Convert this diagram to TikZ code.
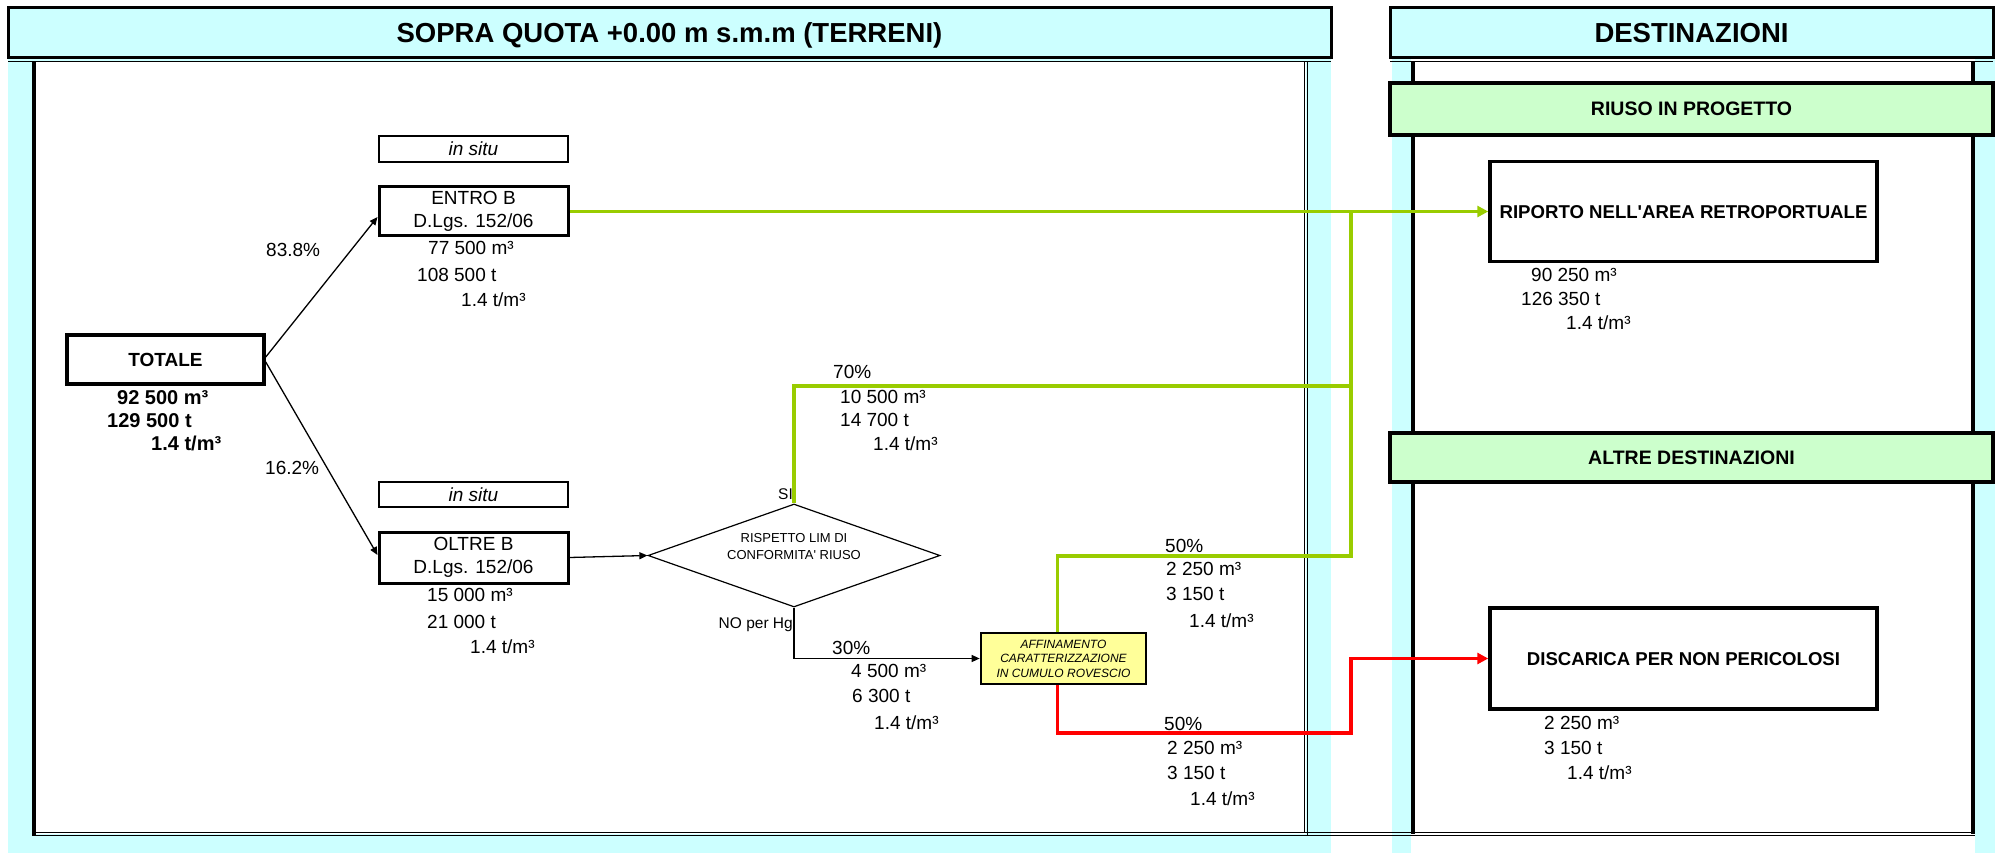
\documentclass[tikz,border=0pt]{standalone}
\usepackage{fontspec}
\setmainfont{Liberation Sans}[Ligatures=TeXOff]
\usetikzlibrary{arrows.meta,shapes.geometric,calc}
\definecolor{cyanbg}{HTML}{CCFFFF}
\definecolor{greenbox}{HTML}{CCFFCC}
\definecolor{yellowbox}{HTML}{FFFF99}
\definecolor{limeline}{HTML}{99CC00}
\definecolor{redline}{HTML}{FF0000}
\begin{document}
\begin{tikzpicture}[x=1pt,y=-1pt,
  box/.style={draw, line width=3pt, fill=white, inner sep=0pt, align=center},
  hdr/.style={draw, line width=3pt, fill=cyanbg, inner sep=0pt, text height=19.7pt, text depth=0pt,
    font=\fontsize{27.5}{32}\selectfont\bfseries},
  subhdr/.style={draw, line width=4pt, fill=greenbox, inner sep=0pt, text height=14pt, text depth=0pt,
    font=\fontsize{19.5}{23}\selectfont\bfseries},
  destbox/.style={box, line width=3.5pt, minimum width=387pt, text height=13.3pt, text depth=0pt,
    font=\fontsize{18.6}{22}\selectfont\bfseries},
  lbl/.style={inner sep=0pt, anchor=west, text height=13.6pt, text depth=0pt, font=\fontsize{19}{22}\selectfont},
  blbl/.style={inner sep=0pt, anchor=west, text height=14.3pt, text depth=0pt, font=\fontsize{20}{23}\selectfont\bfseries},
  smalllbl/.style={inner sep=0pt, text height=11pt, text depth=0pt, font=\fontsize{15.5}{18}\selectfont},
  arr/.style={line width=1.3pt, -{Triangle[length=8pt,width=7pt]}},
  gline/.style={draw=limeline, line width=3.6pt},
  rline/.style={draw=redline, line width=3.4pt},
  bigtip/.style={-{Triangle[length=11pt,width=11pt]}}
]
\useasboundingbox (0,0) rectangle (1995,853);

% backgrounds
\fill[cyanbg] (8,58) rectangle (1331,853);
\fill[white] (34,62) rectangle (1306,834);
\fill[cyanbg] (1392,58) rectangle (1411,853);
\fill[cyanbg] (1975,58) rectangle (1995,853);

% frame lines
\draw[line width=4pt] (34,62) -- (34,836);
\draw[line width=1.3pt] (1304.5,62) -- (1304.5,833);
\draw[line width=1.3pt] (1307.5,62) -- (1307.5,836);
\draw[line width=1.3pt] (32,832.5) -- (1975,832.5);
\draw[line width=1.3pt] (32,835.5) -- (1975,835.5);
\draw[line width=4pt] (1413,62) -- (1413,834);
\draw[line width=4pt] (1973,62) -- (1973,834);
\draw[line width=1.3pt] (8,61.5) -- (1331,61.5);
\draw[line width=1.3pt] (1390,61.5) -- (1993,61.5);

% headers
\node[hdr, minimum width=1323pt, minimum height=50pt] (hdrL) at (669.5,33) {SOPRA QUOTA +0.00 m s.m.m (TERRENI)};
\node[hdr, minimum width=603pt, minimum height=50pt] (hdrR) at (1691.5,33) {DESTINAZIONI};
\node[subhdr, minimum width=603pt, minimum height=52pt] (riuso) at (1691.5,109) {RIUSO IN PROGETTO};
\node[subhdr, minimum width=603pt, minimum height=49pt] (altre) at (1691.5,457.5) {ALTRE DESTINAZIONI};

% connector junctions
\coordinate (jTop) at (1351,211.5);
\coordinate (jMid) at (1351,386);
\coordinate (jLow) at (1351,556);
\coordinate (rLow) at (1351,733);

% boxes
\node[box, line width=2.5pt, minimum width=189pt, minimum height=26pt, font=\itshape\fontsize{19}{22}\selectfont] (insitu1) at (473.5,149) {in situ};
\node[box, minimum width=189pt, minimum height=49pt, font=\fontsize{19}{23}\selectfont] (entro) at (473.5,211.5) {ENTRO B\\D.Lgs. 152/06};
\node[box, line width=3.5pt, minimum width=197pt, minimum height=49pt, text height=13.6pt, text depth=0pt, font=\bfseries\fontsize{19}{22}\selectfont] (totale) at (165.5,359.5) {TOTALE};
\node[box, line width=2.5pt, minimum width=189pt, minimum height=25pt, font=\itshape\fontsize{19}{22}\selectfont] (insitu2) at (473.5,494.5) {in situ};
\node[box, minimum width=189pt, minimum height=51pt, font=\fontsize{19}{23}\selectfont] (oltre) at (473.5,557.5) {OLTRE B\\D.Lgs. 152/06};
\node[draw, diamond, line width=1.2pt, aspect=2.83, minimum width=292pt, minimum height=103pt, inner sep=0pt] (dia) at (794,555.5) {};
\node[align=center, inner sep=0pt, font=\fontsize{13}{17}\selectfont] (diatxt) at (794,546.5) {RISPETTO LIM DI\\CONFORMITA' RIUSO};
\node[destbox, minimum height=100pt] (riporto) at (1683.5,211.5) {RIPORTO NELL'AREA RETROPORTUALE};
\node[destbox, minimum height=101pt] (disc) at (1683.5,658.5) {DISCARICA PER NON PERICOLOSI};

% connectors
\draw[arr] ([yshift=2.5pt]totale.east) -- ([yshift=-5.5pt]entro.west);
\draw[arr] ([yshift=-2.5pt]totale.east) -- ([yshift=2.5pt]oltre.west);
\draw[arr] (oltre.east) -- (dia.west);
\draw[gline, bigtip] (entro.east) -- (riporto.west);
\draw[gline] (dia.north) |- (jMid);

\node[box, line width=2.7pt, fill=yellowbox, minimum width=165pt, minimum height=51pt, font=\itshape\fontsize{12}{14.5}\selectfont] (aff) at (1063.5,658.5) {AFFINAMENTO\\CARATTERIZZAZIONE\\IN CUMULO ROVESCIO};

\draw[arr] (dia.south) |- (aff.west);
\draw[gline] ([xshift=-6pt]aff.north) |- (jLow) -- (jTop);
\draw[rline, bigtip] ([xshift=-6pt]aff.south) |- (rLow) |- (disc.west);

% labels
\node[lbl] (p838) at (266,250) {83.8\%};
\node[lbl] (p162) at (265,468) {16.2\%};
\node[lbl] (e1) at (428,248) {77 500 m³};
\node[lbl] (e2) at (417,275) {108 500 t};
\node[lbl] (e3) at (461,300) {1.4 t/m³};
\node[blbl] (t1) at (117,397) {92 500 m³};
\node[blbl] (t2) at (107,420) {129 500 t};
\node[blbl] (t3) at (151,443) {1.4 t/m³};
\node[lbl] (o1) at (427,595) {15 000 m³};
\node[lbl] (o2) at (427,622) {21 000 t};
\node[lbl] (o3) at (470,647) {1.4 t/m³};
\node[lbl] (s70) at (833,372) {70\%};
\node[lbl] (s1) at (840,397) {10 500 m³};
\node[lbl] (s2) at (840,420) {14 700 t};
\node[lbl] (s3) at (873,444) {1.4 t/m³};
\node[smalllbl, anchor=east] (si) at (793,494) {SI};
\node[smalllbl, anchor=east] (nohg) at (793,623) {NO per Hg};
\node[lbl] (n30) at (832,648) {30\%};
\node[lbl] (n1) at (851,671) {4 500 m³};
\node[lbl] (n2) at (852,696) {6 300 t};
\node[lbl] (n3) at (874,723) {1.4 t/m³};
\node[lbl] (u50) at (1165,546) {50\%};
\node[lbl] (u1) at (1166,569) {2 250 m³};
\node[lbl] (u2) at (1166,594) {3 150 t};
\node[lbl] (u3) at (1189,621) {1.4 t/m³};
\node[lbl] (l50) at (1164,724) {50\%};
\node[lbl] (l1) at (1167,748) {2 250 m³};
\node[lbl] (l2) at (1167,773) {3 150 t};
\node[lbl] (l3) at (1190,799) {1.4 t/m³};
\node[lbl] (r1) at (1531,275) {90 250 m³};
\node[lbl] (r2) at (1521,299) {126 350 t};
\node[lbl] (r3) at (1566,323) {1.4 t/m³};
\node[lbl] (d1) at (1544,723) {2 250 m³};
\node[lbl] (d2) at (1544,748) {3 150 t};
\node[lbl] (d3) at (1567,773) {1.4 t/m³};
\end{tikzpicture}
\end{document}
